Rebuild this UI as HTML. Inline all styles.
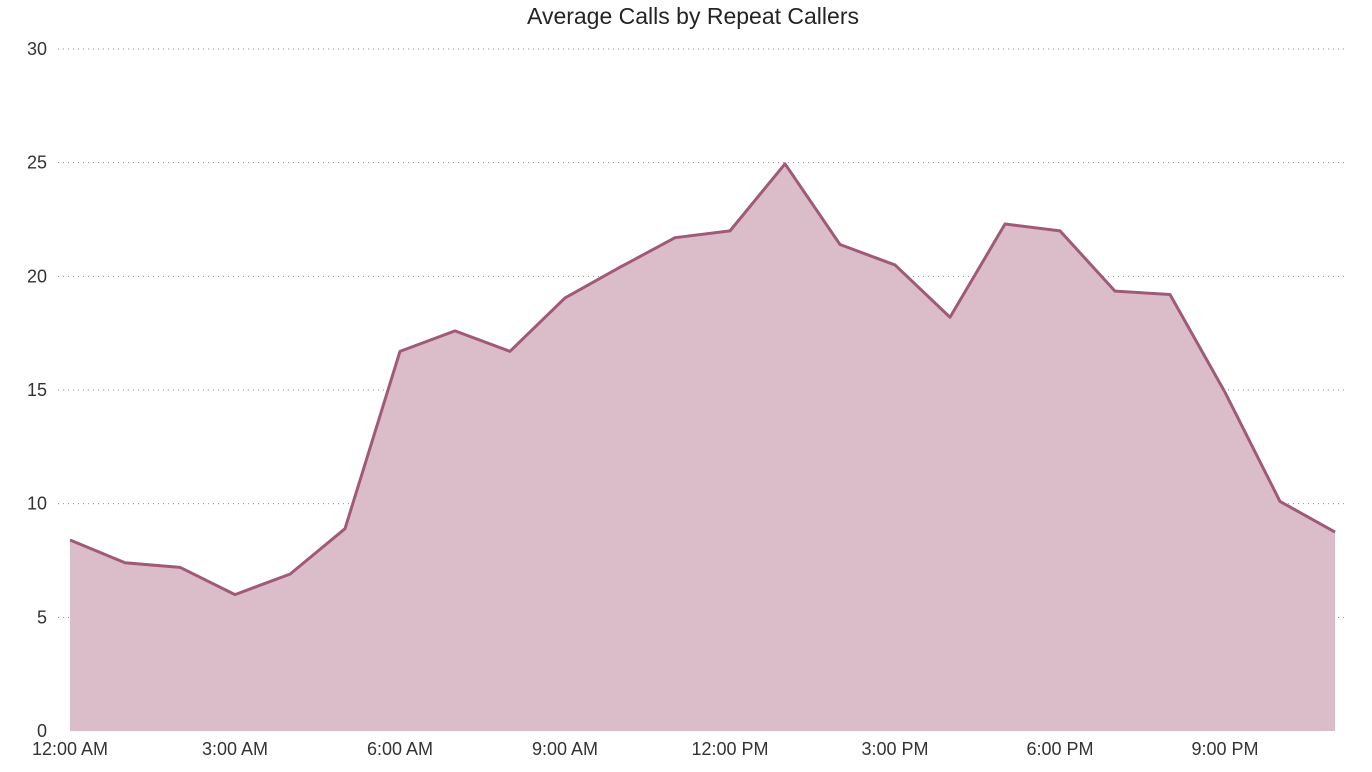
<!DOCTYPE html>
<html><head><meta charset="utf-8"><style>
html,body{margin:0;padding:0;background:#fff;width:1372px;height:772px;overflow:hidden}
svg text{font-family:"Liberation Sans",sans-serif}
</style></head><body>
<svg id="chart" width="1372" height="772" xmlns="http://www.w3.org/2000/svg">
<text x="693" y="24" text-anchor="middle" font-size="23" fill="#252423">Average Calls by Repeat Callers</text>
<g id="grid"></g><g id="area"></g><g id="xaxis"></g>
</svg>
<script>
const hours = [0,1,2,3,4,5,6,7,8,9,10,11,12,13,14,15,16,17,18,19,20,21,22,23];
const values = [8.4,7.4,7.2,6.0,6.9,8.9,16.7,17.6,16.7,19.05,20.4,21.7,22.0,24.95,21.4,20.5,18.2,22.3,22.0,19.35,19.2,14.9,10.1,8.75];
const yTicks = [0,5,10,15,20,25,30];
const xTickHours = [0,3,6,9,12,15,18,21];
const xTickLabels = ["12:00 AM","3:00 AM","6:00 AM","9:00 AM","12:00 PM","3:00 PM","6:00 PM","9:00 PM"];
const NS="http://www.w3.org/2000/svg";
const x = h => 70 + h*(1335-70)/23;
const y = v => 731 - v*(731-49)/30;
function mk(tag, attrs, parent){const e=document.createElementNS(NS,tag);for(const k in attrs)e.setAttribute(k,attrs[k]);parent.appendChild(e);return e;}
const grid=document.getElementById('grid');
yTicks.forEach(t=>{
  if(t>0){const l=mk('line',{x1:58,x2:1345,y1:y(t),y2:y(t),stroke:'#888','stroke-width':1,'stroke-dasharray':'1 4'},grid);
  
  }
  const tx=mk('text',{x:47,y:y(t)+6,'text-anchor':'end','font-size':18,fill:'#333'},grid);
  tx.textContent=t;
  
  
});
const area=document.getElementById('area');
let pts=hours.map((h,i)=>x(h)+','+y(values[i]));
const poly=mk('polygon',{points:x(hours[0])+','+y(0)+' '+pts.join(' ')+' '+x(hours[hours.length-1])+','+y(0),fill:'#dabdc9'},area);


const line=mk('polyline',{points:pts.join(' '),fill:'none',stroke:'#a05a78','stroke-width':3,'stroke-linejoin':'round'},area);


const xa=document.getElementById('xaxis');
xTickHours.forEach((h,i)=>{
  const tx=mk('text',{x:x(h),y:755,'text-anchor':'middle','font-size':18,fill:'#333'},xa);
  tx.textContent=xTickLabels[i];
  
  
});
</script>
</body></html>
